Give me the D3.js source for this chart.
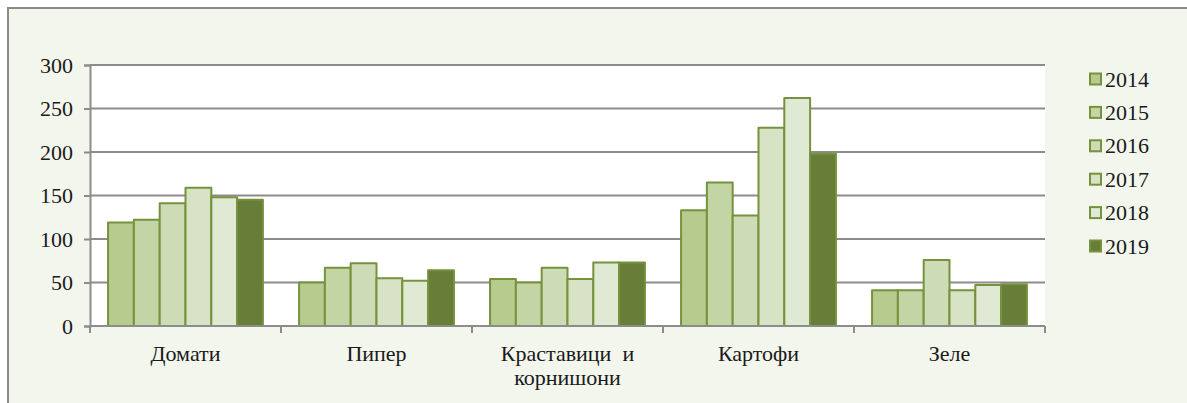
<!DOCTYPE html>
<html>
<head>
<meta charset="utf-8">
<script src="https://cdn.jsdelivr.net/npm/d3@7"></script>
<style>
  html, body { margin: 0; padding: 0; background: #ffffff; }
  svg { display: block; }
</style>
</head>
<body>
<svg id="chart" width="1187" height="403"></svg>
<script>
// ---- data ----
const categories = ["Домати", "Пипер", "Краставици и корнишони", "Картофи", "Зеле"];
const categoryLines = [["Домати"], ["Пипер"], ["Краставици  и", "корнишони"], ["Картофи"], ["Зеле"]];
const years = ["2014", "2015", "2016", "2017", "2018", "2019"];
const values2014 = [119, 50, 54, 133, 41];
const values2015 = [122, 67, 50, 165, 41];
const values2016 = [141, 72, 67, 127, 76];
const values2017 = [159, 55, 54, 228, 41];
const values2018 = [148, 52, 73, 262, 47];
const values2019 = [145, 64, 73, 198, 48];
const yTicks = [0, 50, 100, 150, 200, 250, 300];
const seriesValues = [values2014, values2015, values2016, values2017, values2018, values2019];
const fills = ["#b7cb8f", "#c3d5a4", "#cddbb7", "#d8e3c5", "#e0e9d3", "#677d38"];
const strokeColor = "#76923c";
const fontFam = "'Liberation Serif'";
const fontSize = "22px";
const textColor = "#1a1a1a";

const svg = d3.select("#chart");

// chart background frame
svg.append("rect").attr("x", 8).attr("y", 8).attr("width", 1187).attr("height", 403)
  .attr("fill", "#f3f6ed").attr("stroke", "#8a8a8a").attr("stroke-width", 2);

const pLeft = 90, pRight = 1045, pTop = 65, pBottom = 326;

const x0 = d3.scaleBand().domain(categories).range([pLeft, pRight]).padding(0);
const x1 = d3.scaleBand().domain(years).range([0, x0.bandwidth()]).paddingInner(0).paddingOuter(0.7);
const y = d3.scaleLinear().domain([0, 300]).range([pBottom, pTop]);

// plot area
svg.append("rect").attr("x", pLeft).attr("y", pTop).attr("width", pRight - pLeft).attr("height", pBottom - pTop)
  .attr("fill", "#ffffff");

// gridlines
svg.append("g").selectAll("line").data(yTicks.filter(d => d > 0)).join("line")
  .attr("x1", pLeft).attr("x2", pRight)
  .attr("y1", d => y(d)).attr("y2", d => y(d))
  .attr("stroke", "#8c8c8c").attr("stroke-width", 2);

// y axis
const yAxis = svg.append("g").attr("transform", `translate(${pLeft},0)`)
  .call(d3.axisLeft(y).tickValues(yTicks).tickSize(6).tickPadding(11).tickFormat(d3.format("d")));
yAxis.attr("font-family", null).attr("font-size", null);
yAxis.select(".domain").attr("stroke", "#8c8c8c").attr("stroke-width", 2);
yAxis.selectAll(".tick line").attr("stroke", "#8c8c8c").attr("stroke-width", 2);
yAxis.selectAll(".tick text").style("font-size", fontSize).style("font-family", fontFam).attr("fill", textColor);

// bars
const groups = svg.append("g").selectAll("g").data(categories).join("g")
  .attr("transform", c => `translate(${x0(c)},0)`);
groups.selectAll("rect")
  .data((c, ci) => years.map((yr, si) => ({ yr, si, v: seriesValues[si][ci] })))
  .join("rect")
  .attr("x", d => x1(d.yr))
  .attr("width", x1.bandwidth())
  .attr("y", d => y(d.v))
  .attr("height", d => y(0) - y(d.v))
  .attr("fill", d => fills[d.si])
  .attr("stroke", strokeColor)
  .attr("stroke-width", 2)
  .attr("stroke-linejoin", "round");

// x axis
const xAxisG = svg.append("g");
xAxisG.append("line").attr("x1", pLeft).attr("x2", pRight).attr("y1", pBottom).attr("y2", pBottom)
  .attr("stroke", "#8c8c8c").attr("stroke-width", 2);
const boundaries = categories.map(c => x0(c)).concat([x0(categories[categories.length - 1]) + x0.bandwidth()]);
xAxisG.selectAll("line.tk").data(boundaries).join("line").attr("class", "tk")
  .attr("x1", d => d).attr("x2", d => d).attr("y1", pBottom).attr("y2", pBottom + 7)
  .attr("stroke", "#8c8c8c").attr("stroke-width", 2);

const labels = xAxisG.selectAll("text.cat").data(categories).join("text").attr("class", "cat")
  .attr("x", c => x0(c) + x0.bandwidth() / 2)
  .attr("y", 361)
  .attr("text-anchor", "middle")
  .attr("fill", textColor)
  .style("font-size", fontSize)
  .style("font-family", fontFam)
  .style("white-space", "pre");
labels.each(function(c, i) {
  const t = d3.select(this);
  categoryLines[i].forEach((ln, li) => {
    t.append("tspan").attr("x", x0(c) + x0.bandwidth() / 2).attr("dy", li === 0 ? 0 : 24).text(ln);
  });
});

// legend
const legend = svg.append("g").selectAll("g").data(years).join("g")
  .attr("transform", (d, i) => `translate(1089, ${79 + i * 33.4})`);
legend.append("rect").attr("x", 1).attr("y", -5.5).attr("width", 11).attr("height", 11)
  .attr("fill", (d, i) => fills[i]).attr("stroke", strokeColor).attr("stroke-width", 2);
legend.append("text").attr("x", 16).attr("y", 7.5).attr("fill", textColor)
  .style("font-size", fontSize).style("font-family", fontFam).text(d => d);
</script>
</body>
</html>
